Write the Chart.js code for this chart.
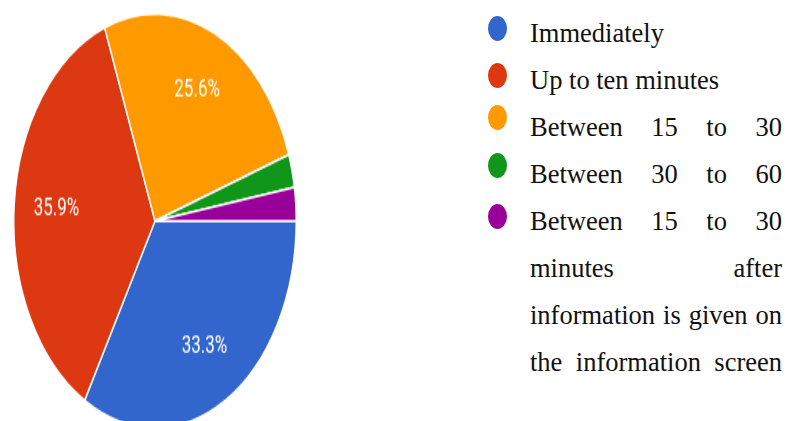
<!DOCTYPE html>
<html>
<head>
<meta charset="utf-8">
<script src="https://cdn.jsdelivr.net/npm/chart.js@4.4.1/dist/chart.umd.min.js"></script>
<style>
  html, body { margin: 0; padding: 0; background: #fff; }
  body { width: 785px; height: 421px; position: relative; overflow: hidden; }
  #pieWrap {
    position: absolute; left: 13px; top: 79px; width: 284px; height: 284px;
    transform: scaleY(1.465); transform-origin: 50% 50%;
  }
  #legend {
    position: absolute; left: 488px; top: 10px; width: 294px;
    font-family: "Liberation Serif", "Times New Roman", serif;
    font-size: 26.5px; line-height: 47px; color: #111;
  }
  .row { position: relative; padding-left: 42px; }
  .dot {
    position: absolute; left: 0; top: 3px; width: 19px; height: 25px; border-radius: 50%;
  }
  .just { text-align: justify; text-align-last: justify; }
</style>
</head>
<body>
<div id="pieWrap"><canvas id="pie" width="284" height="284"></canvas></div>
<div id="legend"></div>
<script>
const categories = [
  'Immediately',
  'Up to ten minutes',
  'Between 15 to 30',
  'Between 30 to 60',
  'Between 15 to 30 minutes after information is given on the information screen'
];
const percentages = [33.3, 35.9, 25.6, 2.6, 2.6];
const colors = ['#3366CC', '#DC3912', '#FF9900', '#109618', '#990099'];

// legend, built from the same arrays
const legend = document.getElementById('legend');
categories.forEach((name, i) => {
  const row = document.createElement('div');
  row.className = 'row';
  const dot = document.createElement('span');
  dot.className = 'dot';
  dot.style.background = colors[i];
  dot.style.top = (i === 2 ? 1 : i === 3 ? 2 : 6) + 'px';
  const txt = document.createElement('div');
  txt.textContent = name;
  if (name.startsWith('Between')) txt.className = 'just';
  row.appendChild(dot);
  row.appendChild(txt);
  legend.appendChild(row);
});

const sliceLabels = {
  id: 'sliceLabels',
  afterDatasetsDraw(chart) {
    const ctx = chart.ctx;
    const meta = chart.getDatasetMeta(0);
    ctx.save();
    ctx.fillStyle = '#fff';
    ctx.font = '17px Roboto, Arial, sans-serif';
    ctx.textAlign = 'center';
    ctx.textBaseline = 'middle';
    meta.data.forEach((arc, i) => {
      const v = percentages[i];
      if (v < 5) return;
      const p = arc.getProps(['x', 'y', 'startAngle', 'endAngle', 'outerRadius'], true);
      const mid = (p.startAngle + p.endAngle) / 2;
      const r = p.outerRadius * 0.7;
      ctx.fillText(v.toFixed(1) + '%', p.x + Math.cos(mid) * r, p.y + Math.sin(mid) * r);
    });
    ctx.restore();
  }
};

new Chart(document.getElementById('pie'), {
  type: 'pie',
  data: {
    labels: categories,
    datasets: [{
      data: percentages,
      backgroundColor: colors,
      borderColor: '#fff',
      borderWidth: 1.5
    }]
  },
  options: {
    responsive: false,
    animation: false,
    rotation: 90,
    layout: { padding: 0 },
    plugins: {
      legend: { display: false },
      tooltip: { enabled: false }
    }
  },
  plugins: [sliceLabels]
});
</script>
</body>
</html>
